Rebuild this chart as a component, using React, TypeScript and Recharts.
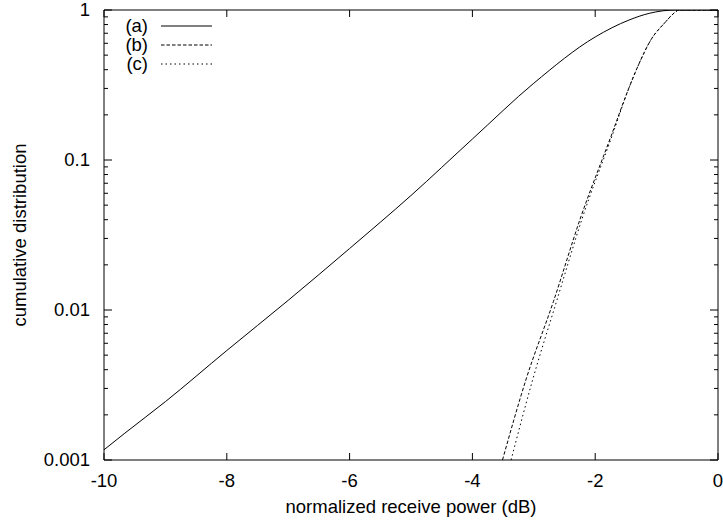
import { LineChart, Line, XAxis, YAxis, Label } from "recharts";

// curve (a)
const A_X = [-10, -9.66, -9, -8, -7, -6, -5, -4, -3, -2, -1.45, -1.12, -0.69, 0];
const A_Y = [0.00117, 0.00151, 0.00245, 0.00537, 0.0116, 0.0257, 0.058, 0.138, 0.325, 0.661, 0.857, 0.95, 1, 1];

// curve (b)
const B_X = [-3.51, -3.13, -2.68, -2.24, -1.745, -1.44, -1.29, -1.09, -0.85, -0.75, -0.63, 0];
const B_Y = [0.001, 0.00341, 0.0114, 0.041, 0.143, 0.31, 0.435, 0.635, 0.836, 0.926, 1, 1];

// curve (c)
const C_X = [-3.37, -3.02, -2.63, -2.21, -1.73, -1.44, -1.29, -1.09, -0.85, -0.75, -0.63, 0];
const C_Y = [0.001, 0.00341, 0.0114, 0.041, 0.143, 0.31, 0.435, 0.635, 0.836, 0.926, 1, 1];

const X_TICKS = [-10, -8, -6, -4, -2, 0];
const X_TICK_LABELS = ["-10", "-8", "-6", "-4", "-2", "0"];
const Y_MAJOR = [0.001, 0.01, 0.1, 1];
const Y_TICK_LABELS = ["0.001", "0.01", "0.1", "1"];
const Y_MINOR = [2, 3, 4, 5, 6, 7, 8, 9].flatMap((m) => [0.001 * m, 0.01 * m, 0.1 * m]);
const Y_TICKS = [...Y_MAJOR, ...Y_MINOR].sort((a, b) => a - b);

const SERIES_NAMES = ["(a)", "(b)", "(c)"];
const DASHES = [undefined, "3.5 2", "1.5 3"];

const FONT = "'Liberation Sans', Arial, Helvetica, sans-serif";
const FS = 18.5;

const toPoints = (xs: number[], ys: number[]) => xs.map((x, i) => ({ x, y: ys[i] }));

const isMajor = (v: number) => Y_MAJOR.some((m) => Math.abs(m - v) < 1e-9);

const LeftTick = (props: any) => {
  const { x, y, payload } = props;
  const major = isMajor(payload.value);
  const idx = Y_MAJOR.findIndex((m) => Math.abs(m - payload.value) < 1e-9);
  return (
    <g>
      <line x1={x} x2={x + (major ? 8 : 4)} y1={y} y2={y} stroke="#000" />
      {major && (
        <text x={x - 14} y={y} dy="0.35em" textAnchor="end" fontFamily={FONT} fontSize={FS} fill="#000">
          {Y_TICK_LABELS[idx]}
        </text>
      )}
    </g>
  );
};

const RightTick = (props: any) => {
  const { x, y, payload } = props;
  const major = isMajor(payload.value);
  return <line x1={x} x2={x - (major ? 8 : 4)} y1={y} y2={y} stroke="#000" />;
};

const BottomTick = (props: any) => {
  const { x, y, payload } = props;
  const idx = X_TICKS.indexOf(payload.value);
  return (
    <g>
      <line x1={x} x2={x} y1={y} y2={y - 7} stroke="#000" />
      <text x={x} y={y + 21} dy="0.35em" textAnchor="middle" fontFamily={FONT} fontSize={FS} fill="#000">
        {X_TICK_LABELS[idx]}
      </text>
    </g>
  );
};

const TopTick = (props: any) => {
  const { x, y } = props;
  return <line x1={x} x2={x} y1={y} y2={y + 7} stroke="#000" />;
};

const Legend = () => (
  <svg width={723} height={522} style={{ position: "absolute", left: 0, top: 0, pointerEvents: "none" }}>
    {SERIES_NAMES.map((name, i) => {
      const cy = 26 + i * 19;
      return (
        <g key={name}>
          <text x={148} y={cy} dy="0.35em" textAnchor="end" fontFamily={FONT} fontSize={FS} fill="#000">
            {name}
          </text>
          <line x1={161} x2={212} y1={cy} y2={cy} stroke="#000" strokeDasharray={DASHES[i]} />
        </g>
      );
    })}
  </svg>
);

export default function App() {
  return (
    <div style={{ position: "absolute", left: 0, top: 0, width: 723, height: 522, background: "#fff" }}>
      <LineChart width={723} height={522} margin={{ top: 0, right: 0, bottom: 0, left: 0 }}>
        <XAxis
          type="number"
          dataKey="x"
          domain={[-10, 0]}
          ticks={X_TICKS}
          height={62}
          tickSize={0}
          tickMargin={0}
          tickLine={false}
          tick={<BottomTick />}
          axisLine={{ stroke: "#000" }}
          allowDataOverflow
        >
          <Label
            content={(p: any) => {
              const vb = p.viewBox;
              return (
                <text x={vb.x + vb.width / 2} y={vb.y + 47} dy="0.35em" textAnchor="middle" fontFamily={FONT} fontSize={FS} fill="#000">
                  normalized receive power (dB)
                </text>
              );
            }}
          />
        </XAxis>
        <XAxis
          xAxisId="top"
          orientation="top"
          type="number"
          dataKey="x"
          domain={[-10, 0]}
          ticks={X_TICKS}
          height={10}
          tickSize={0}
          tickMargin={0}
          tickLine={false}
          tick={<TopTick />}
          axisLine={{ stroke: "#000" }}
          allowDataOverflow
        />
        <YAxis
          type="number"
          scale="log"
          domain={[0.001, 1]}
          ticks={Y_TICKS}
          width={104}
          tickSize={0}
          tickMargin={0}
          tickLine={false}
          tick={<LeftTick />}
          axisLine={{ stroke: "#000" }}
          interval={0}
          allowDataOverflow
        >
          <Label
            content={(p: any) => {
              const vb = p.viewBox;
              const cx = vb.x + 20;
              const cy = vb.y + vb.height / 2;
              return (
                <text x={cx} y={cy} dy="0.35em" textAnchor="middle" transform={`rotate(-90 ${cx} ${cy})`} fontFamily={FONT} fontSize={FS} fill="#000">
                  cumulative distribution
                </text>
              );
            }}
          />
        </YAxis>
        <YAxis
          yAxisId="right"
          orientation="right"
          type="number"
          scale="log"
          domain={[0.001, 1]}
          ticks={Y_TICKS}
          width={5}
          tickSize={0}
          tickMargin={0}
          tickLine={false}
          tick={<RightTick />}
          axisLine={{ stroke: "#000" }}
          interval={0}
          allowDataOverflow
        />
        <Line data={toPoints(A_X, A_Y)} dataKey="y" type="monotone" stroke="#000" strokeWidth={1} dot={false} isAnimationActive={false} />
        <Line data={toPoints(B_X, B_Y)} dataKey="y" type="monotone" stroke="#000" strokeWidth={1} strokeDasharray={DASHES[1]} dot={false} isAnimationActive={false} />
        <Line data={toPoints(C_X, C_Y)} dataKey="y" type="monotone" stroke="#000" strokeWidth={1} strokeDasharray={DASHES[2]} dot={false} isAnimationActive={false} />
      </LineChart>
      <Legend />
    </div>
  );
}
